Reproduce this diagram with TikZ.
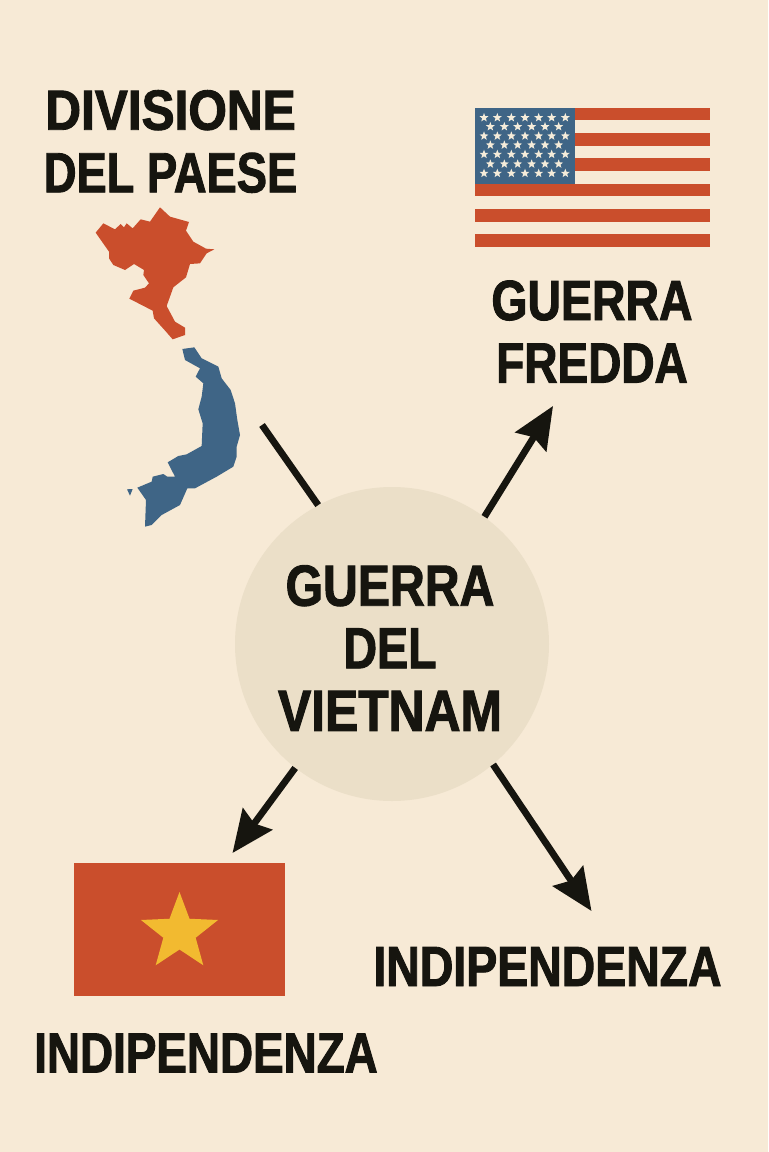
\documentclass[tikz,border=0pt]{standalone}
\usepackage{fontspec}
\usepackage{graphicx}
\usetikzlibrary{arrows.meta}
\newfontfamily\lblfamily[FakeStretch=0.78,FakeBold=1.6]{Liberation Sans Bold}
\newcommand\widen[2]{\scalebox{#1}[1]{#2}}
\definecolor{paper}{HTML}{F7EAD6}
\definecolor{hubcol}{HTML}{EBDFC8}
\definecolor{redcol}{HTML}{CA4E2C}
\definecolor{bluecol}{HTML}{3F6586}
\definecolor{inkcol}{HTML}{16150F}
\definecolor{yellowcol}{HTML}{F2BA30}
\definecolor{starcol}{HTML}{F5ECDA}
\newcommand\fivestar[4]{\fill[#4,shift={(#1,#2)}] (-90:#3) -- (-54:{0.42*#3}) -- (-18:#3) -- (18:{0.42*#3}) -- (54:#3) -- (90:{0.42*#3}) -- (126:#3) -- (162:{0.42*#3}) -- (198:#3) -- (234:{0.42*#3}) -- cycle;}
\tikzset{
  lbl/.style={font=\lblfamily\fontsize{42.5pt}{46.9pt}\selectfont,text=inkcol,align=center,inner sep=0pt},
  hublbl/.style={lbl,font=\lblfamily\fontsize{43.5pt}{46.9pt}\selectfont},
  link/.style={draw=inkcol,line width=5.1pt},
  arrowlink/.style={link,-{Stealth[length=31.5pt,width=27pt,inset=4pt]}},
}
\begin{document}
\begin{tikzpicture}[x=0.75pt,y=-0.75pt]
\useasboundingbox (0,0) rectangle (768,1152);
\fill[paper] (0,0) rectangle (768,1152);
% hub
\node[circle,fill=hubcol,minimum size=235.5pt,inner sep=0pt] (hub) at (392,644) {};
\node[hublbl] (hubtext) at (390,648) {\widen{1.065}{GUERRA}\\\widen{1.03}{DEL}\\\widen{1.10}{VIETNAM}};
% map
\begin{scope}[shift={(80,190)},scale=0.33333]
\fill[redcol] (47,128)--(70,100)--(105,118)--(122,102)--(132,112)--(140,100)--(158,115)--(182,88)--(210,95)--(240,52)--(270,80)--(327,96)--(318,122)--(340,155)--(378,176)--(403,178)--(380,190)--(360,220)--(330,222)--(318,262)--(280,292)--(260,348)--(285,395)--(315,413)--(315,435)--(278,448)--(258,425)--(222,385)--(218,362)--(148,326)--(160,302)--(195,293)--(207,280)--(190,255)--(192,240)--(162,222)--(135,240)--(100,225)--(87,205)--(87,185)--cycle;
\fill[bluecol] (307,477)--(343,472)--(365,505)--(415,530)--(425,565)--(452,600)--(465,640)--(472,690)--(480,735)--(470,770)--(470,800)--(460,830)--(410,860)--(345,895)--(322,895)--(300,945)--(245,975)--(215,1005)--(195,1010)--(198,930)--(172,893)--(215,875)--(218,860)--(250,852)--(262,860)--(285,860)--(263,817)--(295,798)--(320,793)--(365,768)--(368,700)--(355,658)--(365,620)--(370,580)--(347,560)--(360,535)--(315,510)--cycle;
\fill[bluecol] (141,898)--(158,897)--(150,917)--cycle;
\end{scope}
% US flag
\foreach \a/\b in {107.7/120.3,132.7/145.7,158/171,183.5/196,208.5/221.7,233.7/247}{
  \fill[redcol] (475,\a) rectangle (709.5,\b);
}
\fill[bluecol] (475,107.7) rectangle (575,183.5);
\begin{scope}[shift={(465,95)},scale=0.33333]
\foreach \y in {68,123,178,235}{\foreach \x in {57,97,139,180,221,260,301}{\fivestar{\x}{\y}{14}{starcol}}}
\foreach \y in {95,150,207}{\foreach \x in {76,118,158,200,240,281}{\fivestar{\x}{\y}{14}{starcol}}}
\end{scope}
% VN flag
\node[rectangle,fill=redcol,minimum width=158.25pt,minimum height=99.75pt,inner sep=0pt] (vnflag) at (179.5,929.5) {};
\fivestar{179.5}{932.5}{40.5}{yellowcol}
% labels
\node[lbl] (division) at (170.5,141.5) {\widen{1.12}{DIVISIONE}\\\widen{1.025}{DEL PAESE}};
\node[lbl] (fredda) at (592,331.5) {\widen{1.05}{GUERRA}\\\widen{1.04}{FREDDA}};
\node[lbl] (indipA) at (547.5,966.5) {\widen{1.05}{INDIPENDENZA}};
\node[lbl] (indipB) at (206,1053) {\widen{1.036}{INDIPENDENZA}};
% connector ends
\coordinate (mapend) at (262,425);
\coordinate (usend) at (553,406);
\coordinate (vnend) at (232.5,853);
\coordinate (indend) at (591.5,911);
\draw[link] (hub.118.5) -- (mapend);
\draw[arrowlink] (hub.54.3) -- (usend);
\draw[arrowlink] (hub.-128.8) -- (vnend);
\draw[arrowlink] (hub.-50.2) -- (indend);
\end{tikzpicture}
\end{document}
